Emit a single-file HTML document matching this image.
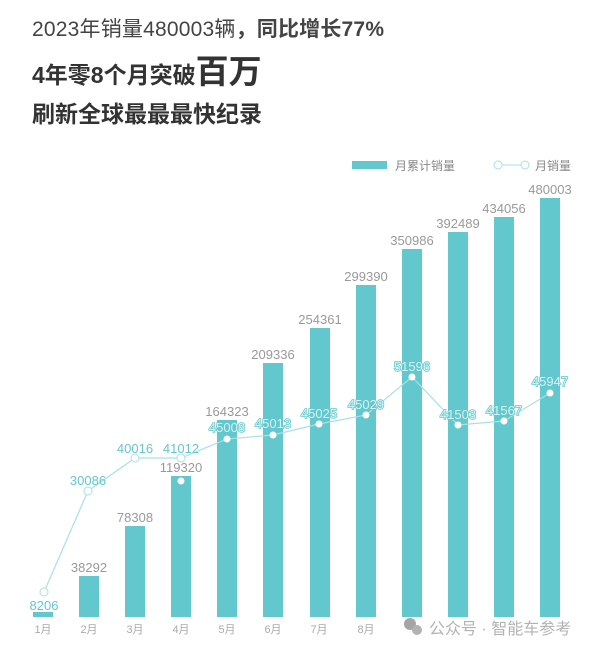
<!DOCTYPE html>
<html><head><meta charset="utf-8"><style>
body{margin:0;background:#fff;width:600px;height:651px;overflow:hidden}
svg{display:block}
.t{font-family:"Liberation Sans","Noto Sans CJK SC",sans-serif}
</style></head><body>
<svg width="600" height="651" viewBox="0 0 600 651" class="t">
<text x="32" y="36" font-size="21" fill="#444" textLength="352">2023年销量480003辆<tspan font-weight="bold">，同比增长77%</tspan></text>
<text x="32" y="83" font-size="23" font-weight="bold" fill="#333">4年零8个月突破<tspan font-size="33">百万</tspan></text>
<text x="32" y="122" font-size="23" font-weight="bold" fill="#333">刷新全球最最最快纪录</text>

<rect x="352" y="161" width="35" height="8" fill="#62c8cd"/>
<text x="395" y="170" font-size="12" fill="#888">月累计销量</text>
<line x1="502" y1="165" x2="521" y2="165" stroke="#a9e0e3" stroke-width="1"/>
<circle cx="498" cy="165" r="4" fill="#fff" stroke="#a9e0e3"/>
<circle cx="525" cy="165" r="4" fill="#fff" stroke="#a9e0e3"/>
<text x="535" y="170" font-size="12" fill="#888">月销量</text>

<g fill="#62c8cd">
<rect x="33" y="612" width="20" height="5"/>
<rect x="79" y="576" width="20" height="41"/>
<rect x="125" y="526" width="20" height="91"/>
<rect x="171" y="476" width="20" height="141"/>
<rect x="217" y="420" width="20" height="197"/>
<rect x="263" y="363" width="20" height="254"/>
<rect x="310" y="328" width="20" height="289"/>
<rect x="356" y="285" width="20" height="332"/>
<rect x="402" y="249" width="20" height="368"/>
<rect x="448" y="232" width="20" height="385"/>
<rect x="494" y="217" width="20" height="400"/>
<rect x="540" y="198" width="20" height="419"/>
</g>
<g font-size="13" fill="#999" text-anchor="middle">
<text x="89" y="572">38292</text>
<text x="135" y="522">78308</text>
<text x="181" y="472">119320</text>
<text x="227" y="416">164323</text>
<text x="273" y="359">209336</text>
<text x="320" y="324">254361</text>
<text x="366" y="281">299390</text>
<text x="412" y="245">350986</text>
<text x="458" y="228">392489</text>
<text x="504" y="213">434056</text>
<text x="550" y="194">480003</text>
</g>
<polyline points="44,592 88,491 135,458 181,458 227,439 273,435 319,424 366,415 412,377 458,425 504,421 550,393" fill="none" stroke="#a9e0e3" stroke-width="1.2"/>
<g fill="#fff" stroke="#a9e0e3">
<circle cx="44" cy="592" r="4"/><circle cx="88" cy="491" r="4"/><circle cx="135" cy="458" r="4"/><circle cx="181" cy="458" r="4"/>
</g>
<g fill="#fff">
<circle cx="181" cy="481" r="3.5"/><circle cx="227" cy="439" r="3.5"/><circle cx="273" cy="435" r="3.5"/><circle cx="319" cy="424" r="3.5"/><circle cx="366" cy="415" r="3.5"/><circle cx="412" cy="377" r="3.5"/><circle cx="458" cy="425" r="3.5"/><circle cx="504" cy="421" r="3.5"/><circle cx="550" cy="393" r="3.5"/>
</g>
<g font-size="13" fill="#62c8cd" text-anchor="middle">
<text x="44" y="610">8206</text>
<text x="88" y="485">30086</text>
<text x="135" y="453">40016</text>
<text x="181" y="453">41012</text>
</g>
<g font-size="13" fill="#d5f1f2" stroke="#62c8cd" stroke-width="1.5" paint-order="stroke" text-anchor="middle">
<text x="227" y="432">45008</text>
<text x="273" y="428">45013</text>
<text x="319" y="418">45025</text>
<text x="366" y="409">45029</text>
<text x="412" y="371">51596</text>
<text x="458" y="419">41503</text>
<text x="504" y="415">41567</text>
<text x="550" y="386">45947</text>
</g>
<g font-size="11" fill="#aaa" text-anchor="middle">
<text x="43" y="633">1月</text><text x="89" y="633">2月</text><text x="135" y="633">3月</text><text x="181" y="633">4月</text><text x="227" y="633">5月</text><text x="273" y="633">6月</text><text x="319" y="633">7月</text><text x="366" y="633">8月</text>
</g>
<g opacity="0.75">
<circle cx="410" cy="624" r="6" fill="#888"/><circle cx="417" cy="630" r="5" fill="#999"/>
<text x="429" y="634" font-size="16" fill="#999">公众号 · 智能车参考</text>
</g>
</svg>
</body></html>
